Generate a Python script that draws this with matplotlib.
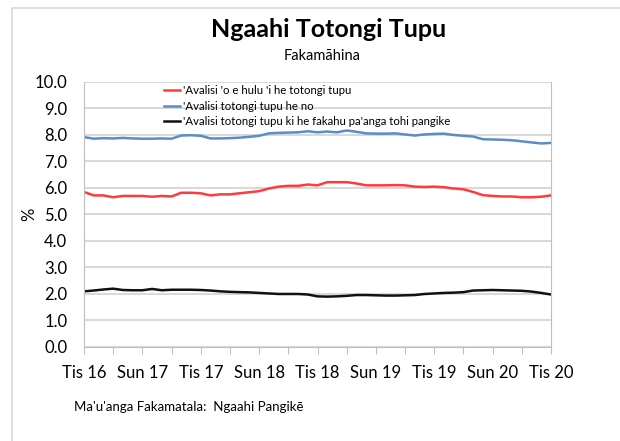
import matplotlib
matplotlib.use("Agg")
import matplotlib.pyplot as plt
from matplotlib.patches import Rectangle
import numpy as np

plt.rcParams['font.family'] = ['Lato', 'DejaVu Sans']

# Monthly series, Tis 16 .. Tis 20 (49 months)
red_vals = [5.85, 5.72, 5.72, 5.65, 5.70, 5.70, 5.70, 5.67, 5.70, 5.68,
            5.82, 5.82, 5.80, 5.72, 5.76, 5.76, 5.80, 5.84, 5.88, 5.98,
            6.05, 6.08, 6.08, 6.13, 6.10, 6.22, 6.22, 6.22, 6.17, 6.10,
            6.10, 6.10, 6.11, 6.10, 6.05, 6.04, 6.05, 6.03, 5.98, 5.95,
            5.85, 5.73, 5.70, 5.68, 5.68, 5.65, 5.65, 5.67, 5.72]
blue_vals = [7.92, 7.86, 7.88, 7.87, 7.89, 7.87, 7.86, 7.86, 7.87, 7.86,
             7.98, 7.99, 7.97, 7.87, 7.87, 7.88, 7.90, 7.93, 7.97, 8.06,
             8.08, 8.09, 8.10, 8.14, 8.10, 8.13, 8.10, 8.17, 8.12, 8.06,
             8.05, 8.05, 8.06, 8.02, 7.98, 8.02, 8.04, 8.05, 8.00, 7.97,
             7.94, 7.84, 7.83, 7.82, 7.80, 7.76, 7.72, 7.68, 7.70]
black_vals = [2.10, 2.13, 2.17, 2.20, 2.15, 2.14, 2.14, 2.19, 2.14, 2.16,
              2.16, 2.16, 2.15, 2.13, 2.10, 2.08, 2.07, 2.06, 2.04, 2.02,
              2.00, 2.00, 2.00, 1.98, 1.91, 1.90, 1.91, 1.93, 1.96, 1.96,
              1.95, 1.94, 1.94, 1.95, 1.96, 2.00, 2.02, 2.04, 2.05, 2.07,
              2.13, 2.14, 2.15, 2.14, 2.13, 2.12, 2.09, 2.04, 1.98]
series_names = ["'Avalisi 'o e hulu 'i he totongi tupu",
                "'Avalisi totongi tupu he no",
                "'Avalisi totongi tupu ki he fakahu pa'anga tohi pangike"]
tick_labels = ['Tis 16', 'Sun 17', 'Tis 17', 'Sun 18', 'Tis 18',
               'Sun 19', 'Tis 19', 'Sun 20', 'Tis 20']
y_ticks = [0, 1, 2, 3, 4, 5, 6, 7, 8, 9, 10]

months = np.arange(len(red_vals))

fig = plt.figure(figsize=(6.2, 4.41), dpi=100)
ax = fig.add_axes([0.1355, 0.2132, 0.7532, 0.6009])

# chart border
fig.patches.append(Rectangle((12 / 620, -0.02), 1.05, 1 - 8 / 441 + 0.02,
                             transform=fig.transFigure, fill=False,
                             edgecolor='#D9D9D9', linewidth=1.2))

ax.plot(months, red_vals, color='#FF3B3B', lw=1.8, label=series_names[0])
ax.plot(months, blue_vals, color='#5B8CC8', lw=1.8, label=series_names[1])
ax.plot(months, black_vals, color='#111111', lw=1.8, label=series_names[2])

ax.set_xlim(0, len(red_vals) - 1)
ax.set_ylim(0, 10)
ax.set_yticks(y_ticks)
ax.set_yticklabels([f'{v:.1f}' for v in y_ticks], fontsize=12)
xt = np.arange(0, len(red_vals), 3)
ax.set_xticks(xt)
ax.set_xticklabels([tick_labels[i // 2] if i % 2 == 0 else ''
                    for i in range(len(xt))], fontsize=12)
ax.tick_params(axis='x', direction='out', length=5, color='#BFBFBF', pad=8)
ax.tick_params(axis='y', length=0, pad=12)
ax.grid(axis='y', color='#D9D9D9', lw=1.5)
ax.set_axisbelow(True)
for s in ['left', 'right', 'bottom']:
    ax.spines[s].set_color('#BFBFBF')
ax.spines['top'].set_visible(False)
ax.set_ylabel('%', fontsize=12, labelpad=-2)

leg = ax.legend(loc='upper left', bbox_to_anchor=(0.16, 1.01), frameon=False,
                fontsize=8.2, handlelength=1.4, handletextpad=0.2,
                labelspacing=0.4, borderaxespad=0.1)

fig.text(0.53, 0.915, 'Ngaahi Totongi Tupu', ha='center', fontsize=18,
         fontweight='bold')
fig.text(0.52, 0.863, 'Fakamāhina', ha='center', fontsize=10.5)
fig.text(0.12, 0.068, "Ma'u'anga Fakamatala:  Ngaahi Pangikē", fontsize=9.5)

fig.savefig('out.png', dpi=100)
